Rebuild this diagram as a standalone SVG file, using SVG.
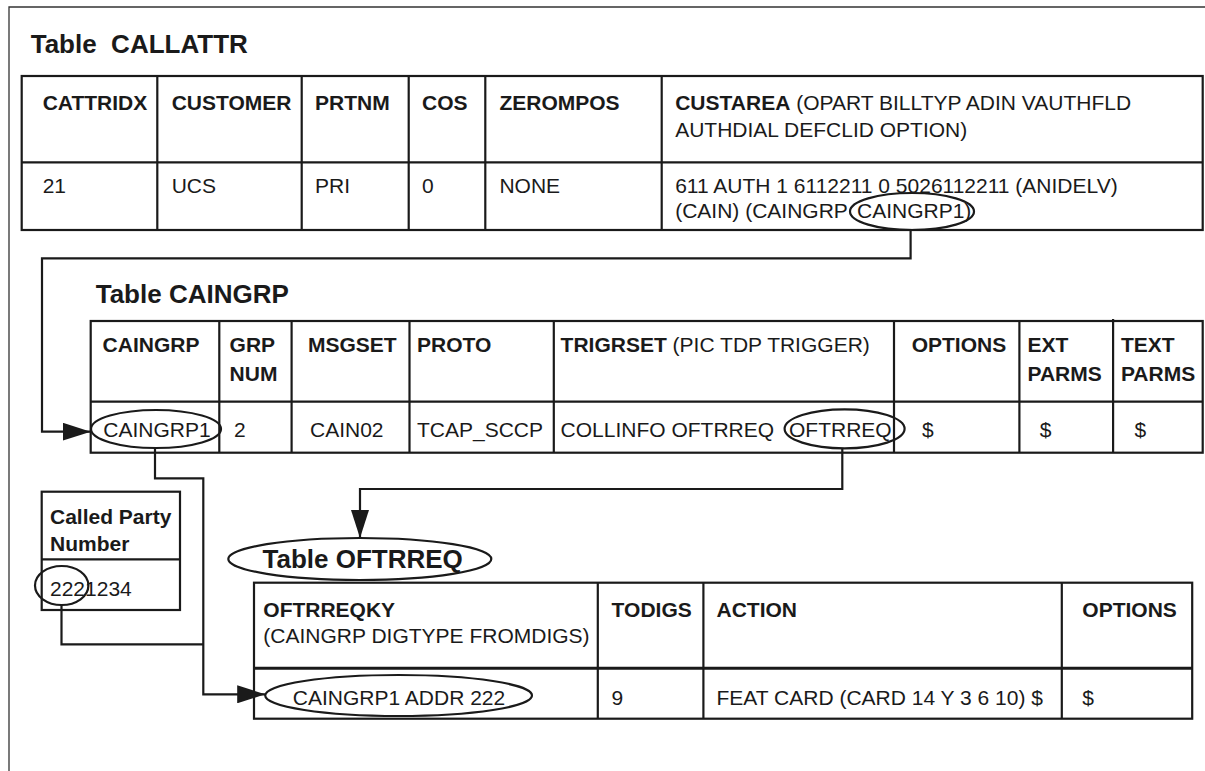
<svg xmlns="http://www.w3.org/2000/svg" width="1205" height="771" viewBox="0 0 1205 771">
<style>
text{font-family:"Liberation Sans",Arial,Helvetica,sans-serif;font-size:21px;fill:#1a1a1a}
.b{font-weight:bold}
.title{font-weight:bold;font-size:26px;white-space:pre}
.cell{fill:none;stroke:#1a1a1a;stroke-width:2.2}
.div{stroke:#1a1a1a;stroke-width:2.2}
.thick{stroke:#1a1a1a;stroke-width:3}
.ell{fill:none;stroke:#1a1a1a;stroke-width:2.2}
.con{fill:none;stroke:#1a1a1a;stroke-width:2.2}
</style>
<defs>
<marker id="arr" markerUnits="userSpaceOnUse" markerWidth="30" markerHeight="18" refX="28" refY="9" orient="auto">
<path d="M0,0 L28,9 L0,18 z" fill="#1a1a1a"/>
</marker>
</defs>
<rect width="1205" height="771" fill="#fff"/>
<path d="M9,771 V7 H1205" fill="none" stroke="#333" stroke-width="1.3"/>

<g id="callattr">
<text class="title" x="30.7" y="52.7" xml:space="preserve">Table  CALLATTR</text>
<rect class="cell" x="21.7" y="76" width="1181" height="154"/>
<line class="div" x1="21.7" y1="162.3" x2="1202.7" y2="162.3"/>
<line class="div" x1="157.3" y1="76" x2="157.3" y2="230"/>
<line class="div" x1="301.7" y1="76" x2="301.7" y2="230"/>
<line class="div" x1="408.7" y1="76" x2="408.7" y2="230"/>
<line class="div" x1="485.3" y1="76" x2="485.3" y2="230"/>
<line class="div" x1="661.7" y1="76" x2="661.7" y2="230"/>
<text class="b" x="42.7" y="110">CATTRIDX</text>
<text class="b" x="171.7" y="110">CUSTOMER</text>
<text class="b" x="315" y="110">PRTNM</text>
<text class="b" x="422" y="110">COS</text>
<text class="b" x="499.4" y="110">ZEROMPOS</text>
<text x="675.2" y="110"><tspan class="b">CUSTAREA</tspan> (OPART BILLTYP ADIN VAUTHFLD</text>
<text x="675.2" y="136.7">AUTHDIAL DEFCLID OPTION)</text>
<text x="42.7" y="192.7">21</text>
<text x="171.7" y="192.7">UCS</text>
<text x="315" y="192.7">PRI</text>
<text x="422" y="192.7">0</text>
<text x="499.4" y="192.7">NONE</text>
<text x="675.2" y="192.7">611 AUTH 1 6112211 0 5026112211 (ANIDELV)</text>
<text x="675.2" y="218.3">(CAIN) (CAINGRP <tspan x="857">CAINGRP1)</tspan></text>
<ellipse class="ell" cx="912" cy="211.5" rx="62" ry="18.5"/>
</g>

<g id="caingrp">
<text class="title" x="95.7" y="303.3">Table CAINGRP</text>
<rect class="cell" x="90.7" y="321" width="1112" height="131.7"/>
<line class="div" x1="90.7" y1="401.7" x2="1202.7" y2="401.7"/>
<line class="div" x1="219.3" y1="321" x2="219.3" y2="452.7"/>
<line class="div" x1="291.6" y1="321" x2="291.6" y2="452.7"/>
<line class="div" x1="409.5" y1="321" x2="409.5" y2="452.7"/>
<line class="div" x1="553.8" y1="321" x2="553.8" y2="452.7"/>
<line class="div" x1="894" y1="321" x2="894" y2="452.7"/>
<line class="div" x1="1019.4" y1="321" x2="1019.4" y2="452.7"/>
<line class="div" x1="1113.1" y1="319" x2="1113.1" y2="452.7"/>
<text class="b" x="102.6" y="351.7">CAINGRP</text>
<text class="b" x="229.6" y="351.7">GRP</text>
<text class="b" x="229.6" y="380.7">NUM</text>
<text class="b" x="308" y="351.7">MSGSET</text>
<text class="b" x="417" y="351.7">PROTO</text>
<text x="560.6" y="351.7"><tspan class="b">TRIGRSET</tspan> (PIC TDP TRIGGER)</text>
<text class="b" x="911.7" y="351.7">OPTIONS</text>
<text class="b" x="1027.5" y="351.7">EXT</text>
<text class="b" x="1027.5" y="380.7">PARMS</text>
<text class="b" x="1120.9" y="351.7">TEXT</text>
<text class="b" x="1120.9" y="380.7">PARMS</text>
<text x="103.3" y="437.3">CAINGRP1</text>
<text x="234" y="437.3">2</text>
<text x="310" y="437.3">CAIN02</text>
<text x="417" y="437.3">TCAP_SCCP</text>
<text x="560.6" y="437.3">COLLINFO OFTRREQ <tspan x="789">OFTRREQ</tspan></text>
<text x="922" y="437.3">$</text>
<text x="1039.8" y="437.3">$</text>
<text x="1134.4" y="437.3">$</text>
<ellipse class="ell" cx="156" cy="429" rx="65" ry="19"/>
<ellipse class="ell" cx="844.6" cy="428.8" rx="60" ry="19.5"/>
</g>

<g id="calledparty">
<rect class="cell" x="41.7" y="491.7" width="138.3" height="118.3"/>
<line class="div" x1="41.7" y1="559.3" x2="180" y2="559.3"/>
<text class="b" x="50" y="524.3">Called Party</text>
<text class="b" x="50" y="551">Number</text>
<text x="50" y="596">2221234</text>
<ellipse class="ell" cx="61.7" cy="585.5" rx="26.7" ry="19.5"/>
</g>

<g id="oftrreq">
<ellipse class="ell" cx="359.8" cy="559" rx="131.5" ry="21"/>
<text class="title" x="262.5" y="568.2">Table OFTRREQ</text>
<rect class="cell" x="254" y="582.7" width="938.2" height="136"/>
<line class="thick" x1="254" y1="668.3" x2="1192.2" y2="668.3"/>
<line class="div" x1="597.8" y1="582.7" x2="597.8" y2="718.7"/>
<line class="div" x1="703.4" y1="582.7" x2="703.4" y2="718.7"/>
<line class="div" x1="1061.8" y1="582.7" x2="1061.8" y2="718.7"/>
<text class="b" x="263.3" y="616.7">OFTRREQKY</text>
<text x="263.3" y="643.3">(CAINGRP DIGTYPE FROMDIGS)</text>
<text class="b" x="611.6" y="616.7">TODIGS</text>
<text class="b" x="716.5" y="616.7">ACTION</text>
<text class="b" x="1082.3" y="616.7">OPTIONS</text>
<text x="292.8" y="705">CAINGRP1 ADDR 222</text>
<text x="611.6" y="705">9</text>
<text x="716.5" y="705">FEAT CARD (CARD 14 Y 3 6 10) $</text>
<text x="1082.3" y="705">$</text>
<ellipse class="ell" cx="398.6" cy="695.5" rx="133.4" ry="20.5"/>
</g>

<g id="connectors">
<path class="con" d="M910.6,230 V258.3 H42 V431.7 H90.7" marker-end="url(#arr)"/>
<path class="con" d="M842.3,448.3 V489 H360 V538" marker-end="url(#arr)"/>
<path class="con" d="M61.5,605 V644.3 H203.3"/>
<path class="con" d="M155,448 V478.3 H203.3 V694.3 H265.2" marker-end="url(#arr)"/>
</g>
</svg>
